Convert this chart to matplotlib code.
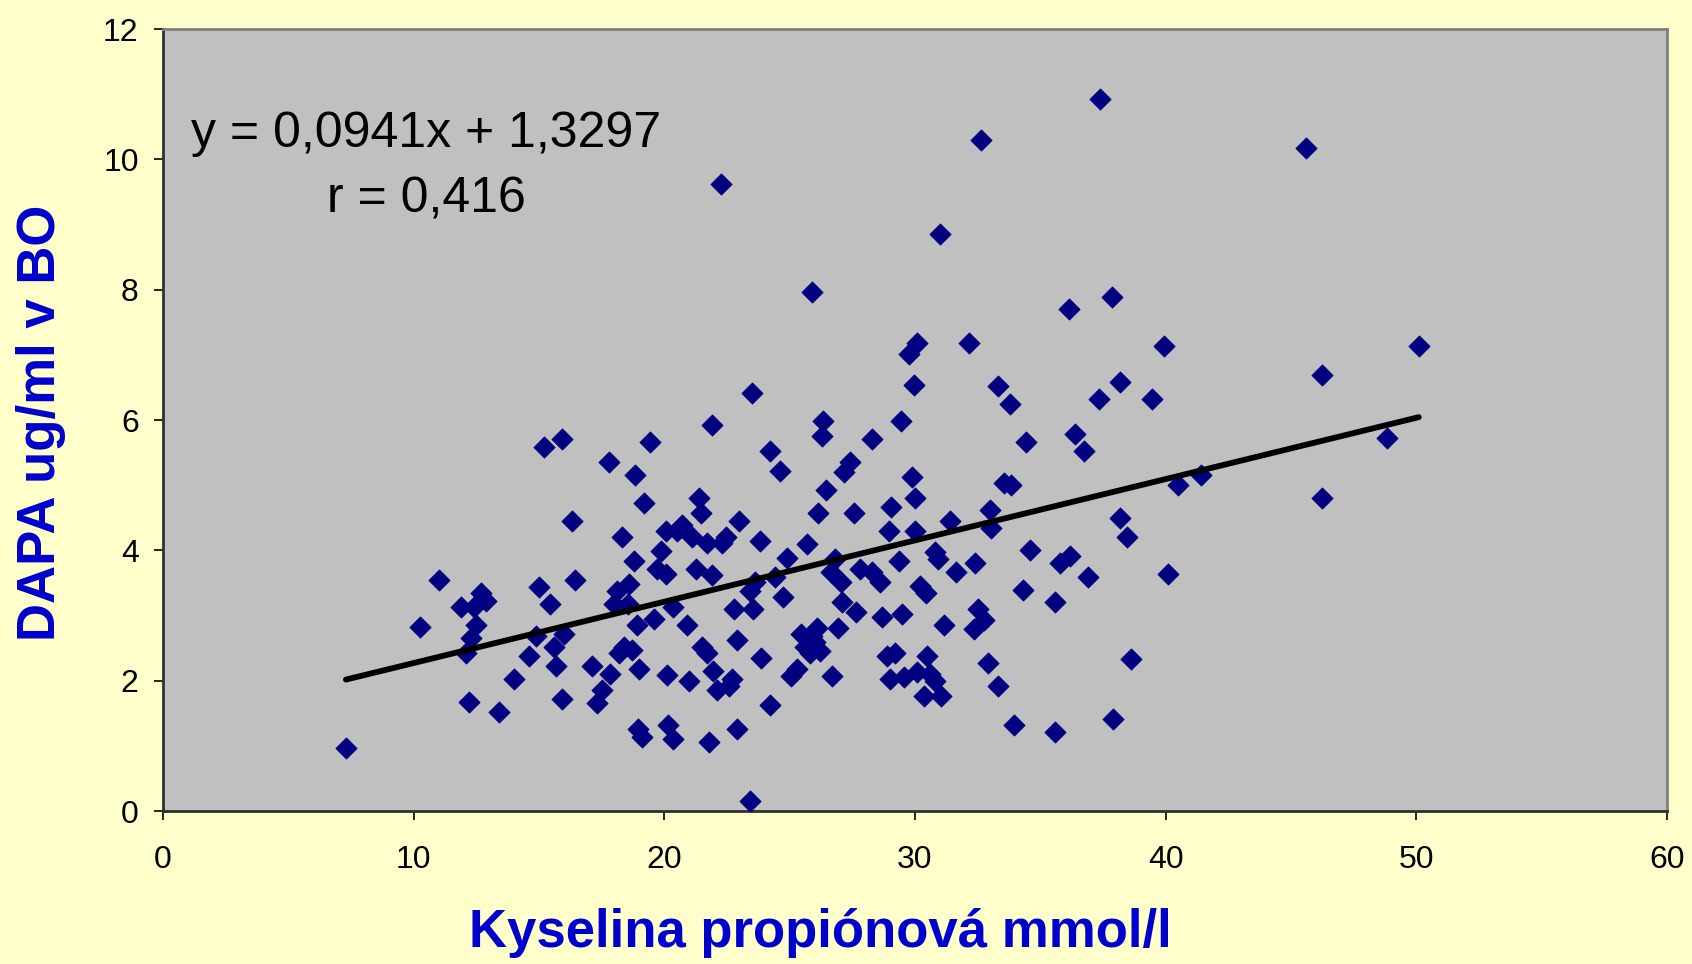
import matplotlib

matplotlib.use("Agg")
import matplotlib.pyplot as plt

# propionic acid (mmol/l) vs DAPA (ug/ml)
PROPIONIC = [
    7.3, 10.25, 11.0, 11.9, 12.1, 12.2, 12.3, 12.4, 12.7, 12.9,
    12.5, 13.4, 14.0, 14.6, 15.0, 14.9, 15.2, 15.45, 15.6, 15.7,
    15.9, 15.9, 16.0, 16.3, 16.45, 17.1, 17.3, 17.5, 17.8, 17.85,
    18.0, 18.1, 18.2, 18.3, 18.4, 18.55, 18.6, 18.7, 18.8, 18.85,
    18.9, 19.0, 18.95, 19.1, 19.2, 19.45, 19.6, 19.7, 19.85, 20.05,
    20.05, 20.1, 20.15, 20.35, 20.35, 20.5, 20.7, 20.9, 21.0, 21.1,
    21.25, 21.4, 21.45, 21.5, 21.7, 21.7, 21.8, 21.9, 21.9, 21.95,
    22.1, 22.25, 22.3, 22.45, 22.6, 22.7, 22.8, 22.9, 22.9, 23.0,
    23.4, 23.4, 23.5, 23.55, 23.6, 23.8, 23.85, 24.2, 24.2, 24.4,
    24.6, 24.75, 24.9, 25.05, 25.3, 25.45, 25.6, 25.7, 25.8, 25.9,
    25.9, 26.0, 26.1, 26.15, 26.2, 26.3, 26.35, 26.45, 26.65, 26.7,
    26.8, 26.95, 27.05, 27.1, 27.15, 27.4, 27.55, 27.65, 27.8, 28.3,
    28.3, 28.6, 28.7, 28.9, 28.95, 29.0, 29.05, 29.2, 29.35, 29.45,
    29.5, 29.55, 29.75, 29.9, 29.95, 30.0, 30.0, 30.1, 30.1, 30.2,
    30.35, 30.45, 30.5, 30.6, 30.8, 30.8, 30.9, 31.0, 31.05, 31.15,
    31.4, 31.65, 32.15, 32.35, 32.4, 32.5, 32.65, 32.75, 32.9, 33.0,
    33.05, 33.3, 33.3, 33.55, 33.8, 33.85, 33.95, 34.3, 34.45, 34.6,
    35.6, 35.6, 35.8, 36.15, 36.2, 36.4, 36.75, 36.9, 37.35, 37.4,
    37.85, 37.9, 38.2, 38.2, 38.45, 38.6, 39.45, 39.95, 40.1, 40.5,
    41.4, 45.6, 46.25, 46.25, 48.85, 50.1,
]
DAPA = [
    0.96, 2.83, 3.54, 3.13, 2.43, 1.67, 2.65, 3.13, 3.34, 3.23,
    2.85, 1.52, 2.02, 2.38, 3.44, 2.68, 5.58, 3.18, 2.52, 2.22,
    5.71, 1.72, 2.71, 4.45, 3.54, 2.23, 1.66, 1.85, 5.36, 2.10,
    3.18, 3.38, 2.43, 4.20, 2.52, 3.18, 3.48, 2.47, 3.84, 5.16,
    2.85, 2.18, 1.26, 1.14, 4.72, 5.66, 2.95, 3.71, 3.99, 3.64,
    4.29, 2.09, 1.32, 1.11, 3.13, 4.29, 4.39, 2.85, 1.99, 4.20,
    3.71, 4.80, 4.57, 2.52, 2.43, 4.12, 1.06, 5.93, 3.62, 2.15,
    1.85, 9.62, 4.12, 4.20, 1.92, 2.02, 3.10, 1.26, 2.63, 4.45,
    3.38, 0.15, 6.42, 3.10, 3.51, 4.14, 2.35, 1.62, 5.53, 3.59,
    5.21, 3.29, 3.89, 2.07, 2.18, 2.71, 2.52, 4.09, 2.43, 7.96,
    2.68, 2.60, 2.81, 4.58, 2.45, 5.76, 5.99, 4.92, 3.67, 2.07,
    3.87, 2.81, 3.51, 3.21, 5.20, 5.36, 4.58, 3.05, 3.72, 5.71,
    3.67, 3.51, 2.98, 2.38, 4.29, 2.02, 4.67, 2.43, 3.84, 5.99,
    3.02, 2.05, 7.02, 5.13, 6.54, 4.80, 4.30, 7.18, 2.14, 3.46,
    1.77, 3.34, 2.38, 2.10, 3.97, 1.99, 3.87, 8.85, 1.77, 2.85,
    4.45, 3.67, 7.18, 2.80, 3.81, 3.10, 10.29, 2.93, 2.27, 4.62,
    4.34, 6.52, 1.92, 5.03, 6.24, 5.00, 1.32, 3.39, 5.66, 4.00,
    3.21, 1.22, 3.81, 7.70, 3.92, 5.78, 5.53, 3.59, 6.32, 10.92,
    7.89, 1.41, 4.50, 6.59, 4.20, 2.33, 6.32, 7.13, 3.64, 5.00,
    5.16, 10.18, 6.69, 4.80, 5.73, 7.13,
]

# linear trend as printed on the chart
SLOPE = 0.0941
INTERCEPT = 1.3297
R_VALUE = 0.416

X_TICKS = [0, 10, 20, 30, 40, 50, 60]
Y_TICKS = [0, 2, 4, 6, 8, 10, 12]

BG = "#FFFFCC"
PLOT_BG = "#C0C0C0"
NAVY = "#000080"
LABEL_BLUE = "#0000CC"


def fmt_cs(v, nd):
    """Czech decimal comma."""
    return f"{v:.{nd}f}".replace(".", ",")


def main():
    plt.rcParams["font.family"] = ["Liberation Sans", "DejaVu Sans"]

    fig = plt.figure(figsize=(16.92, 9.64), dpi=100, facecolor=BG)
    ax = fig.add_axes([0.0963, 0.1587, 0.8889, 0.8112])
    ax.set_facecolor(PLOT_BG)

    ax.scatter(PROPIONIC, DAPA, marker="D", s=118, color=NAVY,
               edgecolors=NAVY, linewidths=0.5, zorder=3)

    x0, x1 = min(PROPIONIC), max(PROPIONIC)
    ax.plot([x0, x1], [SLOPE * x0 + INTERCEPT, SLOPE * x1 + INTERCEPT],
            color="black", lw=4.2, solid_capstyle="round", zorder=4)

    ax.text(10.5, 10.19, f"y = {fmt_cs(SLOPE, 4)}x + {fmt_cs(INTERCEPT, 4)}",
            ha="center", va="baseline", fontsize=36, zorder=5)
    ax.text(10.5, 9.19, f"r = {fmt_cs(R_VALUE, 3)}",
            ha="center", va="baseline", fontsize=36, zorder=5)

    ax.set_xlim(0, 60)
    ax.set_ylim(0, 12)
    ax.set_xticks(X_TICKS)
    ax.set_yticks(Y_TICKS)
    ax.tick_params(axis="both", direction="out", length=6.5, width=1.2,
                   labelsize=23, color="black")
    ax.tick_params(axis="x", pad=18)
    ax.tick_params(axis="y", pad=11)

    for side in ("top", "right"):
        ax.spines[side].set_color("#808080")
        ax.spines[side].set_linewidth(2)
    for side in ("left", "bottom"):
        ax.spines[side].set_color("#303030")
        ax.spines[side].set_linewidth(2)

    fig.text(820 / 1692, 1 - 933 / 964, "Kyselina propiónová mmol/l",
             ha="center", va="center", fontsize=38, fontweight="bold",
             color=LABEL_BLUE)
    fig.text(41 / 1692, 1 - 423 / 964, "DAPA ug/ml v BO", ha="center",
             va="center", rotation=90, fontsize=38, fontweight="bold",
             color=LABEL_BLUE)

    fig.savefig("out.png", dpi=100, facecolor=BG)
    plt.close(fig)


if __name__ == "__main__":
    main()
